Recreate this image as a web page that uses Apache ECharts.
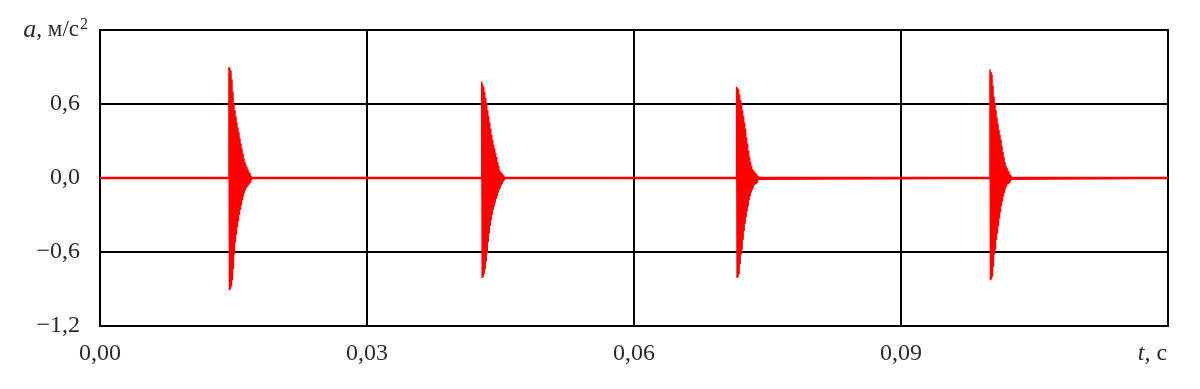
<!DOCTYPE html>
<html>
<head>
<meta charset="utf-8">
<script src="https://cdn.jsdelivr.net/npm/echarts@6/dist/echarts.min.js"></script>
<style>html,body{margin:0;padding:0;background:#fff}#c{width:1200px;height:389px}</style>
</head>
<body>
<div id="c"></div>
<script>
// Axis ticks
const xTicks = [0.00, 0.03, 0.06, 0.09, 0.12];
const yTicks = [-1.2, -0.6, 0.0, 0.6, 1.2];
const xName = 't';
const xUnit = ', с';
const yName = 'a';
const yUnit = ', м/с';
const yUnitPow = '2';

// Burst start times (s) and sample spacing (s)
const burstStarts = [0.01449, 0.04289, 0.07153, 0.10000];
const sampleStep = 0.0000562;

// Burst samples (alternating +/- peaks), m/s²
const burst1 = [0.90,-0.91, 0.89,-0.90, 0.87,-0.88, 0.80,-0.83, 0.70,-0.74, 0.60,-0.62, 0.55,-0.52, 0.50,-0.46, 0.45,-0.40, 0.41,-0.35, 0.37,-0.30, 0.32,-0.26, 0.28,-0.22, 0.24,-0.18, 0.20,-0.15, 0.16,-0.12, 0.13,-0.10, 0.11,-0.08, 0.09,-0.07, 0.07,-0.06, 0.05,-0.05, 0.04,-0.04, 0.02,-0.02];
const burst2 = [0.78,-0.81, 0.76,-0.80, 0.74,-0.78, 0.70,-0.74, 0.65,-0.68, 0.61,-0.61, 0.55,-0.52, 0.50,-0.45, 0.45,-0.39, 0.40,-0.34, 0.35,-0.30, 0.31,-0.26, 0.27,-0.23, 0.24,-0.20, 0.20,-0.17, 0.17,-0.15, 0.13,-0.12, 0.10,-0.10, 0.06,-0.08, 0.05,-0.06, 0.04,-0.05, 0.03,-0.03, 0.02,-0.02];
const burst3 = [0.74,-0.81, 0.73,-0.80, 0.72,-0.78, 0.68,-0.70, 0.63,-0.62, 0.60,-0.58, 0.55,-0.50, 0.50,-0.43, 0.45,-0.37, 0.40,-0.32, 0.33,-0.27, 0.28,-0.23, 0.22,-0.18, 0.17,-0.15, 0.13,-0.12, 0.10,-0.10, 0.07,-0.08, 0.06,-0.06, 0.05,-0.05, 0.04,-0.05, 0.03,-0.04, 0.02,-0.02, 0.01,-0.01];
const burst4 = [0.88,-0.83, 0.86,-0.82, 0.84,-0.80, 0.75,-0.72, 0.66,-0.62, 0.61,-0.58, 0.55,-0.50, 0.49,-0.45, 0.44,-0.39, 0.39,-0.33, 0.35,-0.28, 0.31,-0.23, 0.26,-0.19, 0.21,-0.15, 0.17,-0.12, 0.13,-0.09, 0.10,-0.07, 0.08,-0.05, 0.06,-0.05, 0.05,-0.04, 0.03,-0.03, 0.02,-0.01];
const bursts = [burst1, burst2, burst3, burst4];

// Build the signal from the sampled bursts (zero between bursts)
const signal = [[xTicks[0], 0]];
bursts.forEach((b, k) => {
  const t0 = burstStarts[k];
  signal.push([t0, 0]);
  b.forEach((v, i) => signal.push([t0 + i * sampleStep, v]));
  signal.push([t0 + b.length * sampleStep, 0]);
});
signal.push([xTicks[xTicks.length - 1], 0]);

const fmt = v => v.toFixed(1).replace('.', ',').replace('-', '−');
const font = 'Liberation Serif';
const txt = '#2a2a2a';
const fs = 24;

const chart = echarts.init(document.getElementById('c'), null, {renderer: 'canvas'});
chart.setOption({
  animation: false,
  backgroundColor: '#fff',
  grid: {left: 100, right: 32, top: 30, bottom: 63, show: true, borderColor: '#000', borderWidth: 2, backgroundColor: 'transparent'},
  xAxis: {
    type: 'value', min: xTicks[0], max: xTicks[xTicks.length - 1], interval: 0.03,
    axisLine: {show: true, onZero: false, lineStyle: {color: '#000', width: 2}},
    axisTick: {show: false},
    splitLine: {show: true, lineStyle: {color: '#000', width: 2}},
    axisLabel: {
      margin: 16, fontFamily: font, fontSize: fs, color: txt,
      showMaxLabel: true, showMinLabel: true,
      formatter: v => Math.abs(v - xTicks[xTicks.length - 1]) < 1e-9
        ? '{i|' + xName + '}{n|' + xUnit + '}'
        : v.toFixed(2).replace('.', ','),
      rich: {
        i: {fontFamily: font, fontSize: fs, fontStyle: 'italic', color: txt},
        n: {fontFamily: font, fontSize: fs, color: txt, padding: [0, 31, 0, 0]}
      }
    }
  },
  yAxis: {
    type: 'value', min: yTicks[0], max: yTicks[yTicks.length - 1], interval: 0.6,
    axisLine: {show: true, onZero: false, lineStyle: {color: '#000', width: 2}},
    axisTick: {show: false},
    splitLine: {show: true, lineStyle: {color: '#000', width: 2}},
    axisLabel: {
      margin: 12, fontFamily: font, fontSize: fs, color: txt,
      showMaxLabel: true, showMinLabel: true,
      formatter: v => Math.abs(v - yTicks[yTicks.length - 1]) < 1e-9
        ? '{i|' + yName + '}{n|' + yUnit + '}{s|' + yUnitPow + '}'
        : '{d|' + fmt(v) + '}',
      rich: {
        d: {fontFamily: font, fontSize: fs, color: txt, padding: [0, 8, 0, 0]},
        i: {fontFamily: font, fontSize: 26, fontStyle: 'italic', color: txt},
        n: {fontFamily: font, fontSize: 23, color: txt},
        s: {fontFamily: font, fontSize: 16, color: txt, verticalAlign: 'top', padding: [0, 0, 10, 1]}
      }
    }
  },
  series: [
    {
      type: 'line', data: [[xTicks[0], 0], [xTicks[xTicks.length - 1], 0]],
      symbol: 'none', lineStyle: {color: '#ff0000', width: 2.5}, z: 3
    },
    {
      type: 'line', data: signal, symbol: 'none',
      lineStyle: {color: '#ff0000', width: 1.5}, z: 4
    }
  ]
});
</script>
</body>
</html>
